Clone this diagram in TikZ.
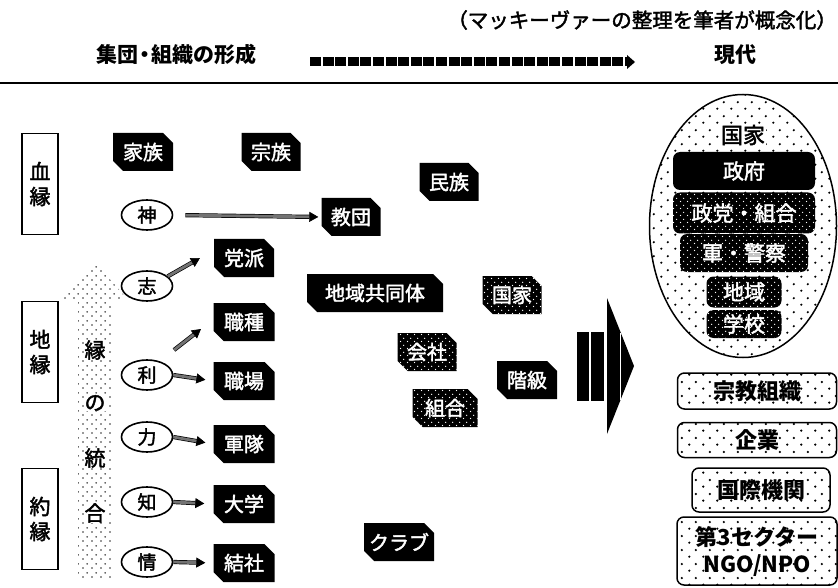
\documentclass[tikz,border=0pt]{standalone}
\usepackage{fontspec}
\setmainfont{Noto Sans CJK JP}[UprightFeatures={FakeBold=2}]
\usetikzlibrary{patterns,shapes.misc,shapes.geometric,arrows.meta,calc}
\pgfdeclarepatternformonly{bigdots}{\pgfqpoint{0pt}{0pt}}{\pgfqpoint{14pt}{14pt}}{\pgfqpoint{14pt}{14pt}}{%
  \pgfpathcircle{\pgfqpoint{3.5pt}{3.5pt}}{1.3pt}\pgfusepath{fill}%
  \pgfpathcircle{\pgfqpoint{10.5pt}{10.5pt}}{1.3pt}\pgfusepath{fill}}
\pgfdeclarepatternformonly{smalldots}{\pgfqpoint{0pt}{0pt}}{\pgfqpoint{7pt}{7pt}}{\pgfqpoint{7pt}{7pt}}{%
  \pgfpathcircle{\pgfqpoint{1.75pt}{1.75pt}}{0.75pt}\pgfusepath{fill}%
  \pgfpathcircle{\pgfqpoint{5.25pt}{5.25pt}}{0.75pt}\pgfusepath{fill}}
\pgfdeclarepatternformonly{gdots}{\pgfqpoint{0pt}{0pt}}{\pgfqpoint{9pt}{9pt}}{\pgfqpoint{9pt}{9pt}}{%
  \pgfpathcircle{\pgfqpoint{2.25pt}{2.25pt}}{0.95pt}\pgfusepath{fill}%
  \pgfpathcircle{\pgfqpoint{6.75pt}{6.75pt}}{0.95pt}\pgfusepath{fill}}
\begin{document}
\begin{tikzpicture}[x=1pt,y=-1pt,
  chbase/.style={chamfered rectangle, chamfered rectangle corners={north east,south west},
    chamfered rectangle xsep=5pt, chamfered rectangle ysep=5pt, text=white, inner sep=0pt,
    minimum height=38pt, minimum width=59pt, font=\fontsize{20}{20}\selectfont},
  blk/.style={chbase, fill=black},
  dblk/.style={chbase, preaction={fill=black}, pattern=smalldots, pattern color=white},
  kbox/.style={draw, line width=1.6pt, minimum width=36pt, minimum height=101pt, inner sep=0pt,
    align=center, font=\fontsize{21}{25}\selectfont},
  ell/.style={ellipse, draw, line width=1.6pt, minimum width=51pt, minimum height=30pt,
    inner sep=0pt, font=\fontsize{19}{19}\selectfont},
  arr/.style={draw=black, line width=0.7pt, double=black!55, double distance=2.8pt,
    -{Triangle[length=9pt,width=10pt]}},
  rbase/.style={rectangle, rounded corners=7pt, inner sep=0pt, font=\fontsize{21}{21}\selectfont, text=white},
  rblk/.style={rbase, fill=black},
  rdblk/.style={rbase, preaction={fill=black}, pattern=smalldots, pattern color=white},
  wbox/.style={rectangle, rounded corners=7pt, draw, line width=1.5pt, pattern=bigdots, inner sep=0pt,
    align=center, font=\fontsize{22}{27}\selectfont\bfseries},
  vch/.style={fill=white, inner sep=0.5pt, font=\fontsize{21}{21}\selectfont}
]
\useasboundingbox (0,0) rectangle (838,588);

% header
\node[anchor=east, inner sep=0pt, font=\fontsize{20.5}{21}\selectfont] (cap) at (837,20) {（マッキーヴァーの整理を筆者が概念化）};
\node[font=\fontsize{21}{21}\selectfont\bfseries] (h1) at (176,55) {集団\hspace{-4pt}・\hspace{-4pt}組織の形成};
\node[font=\fontsize{21}{21}\selectfont\bfseries] (h2) at (735,55) {現代};
\coordinate (as) at (310,62);
\coordinate (ae) at (627,62);
\draw[line width=9pt, dash pattern=on 11pt off 1.6pt] (as) -- (ae);
\fill (ae) ++(0,-7) -- ++(8,7) -- ++(-8,7) -- cycle;
\draw[line width=1.8pt] (0,83) -- (838,83);

% left category boxes
\node[kbox] (ketsu) at (40,184) {血\\縁};
\node[kbox] (chien) at (40,352) {地\\縁};
\node[kbox] (yakuen) at (40,519) {約\\縁};

% integration column
\fill[pattern=gdots, pattern color=black!80] (78,580) -- (78,300) -- (62,300) -- (95,262) -- (128,300) -- (112,300) -- (112,580) -- cycle;
\node[vch] (v1) at (95,350) {縁};
\node[vch] (v2) at (95,403) {の};
\node[vch] (v3) at (95,458) {統};
\node[vch] (v4) at (95,513) {合};

% ellipses
\node[ell] (kami) at (147,215) {神};
\node[ell] (shi) at (147,286) {志};
\node[ell] (ri) at (147,375) {利};
\node[ell] (chikara) at (147,437) {力};
\node[ell] (chi) at (147,502) {知};
\node[ell] (jou) at (147,562) {情};

% black boxes
\node[blk, minimum width=60pt] (kazoku) at (143,152) {家族};
\node[blk] (souzoku) at (271,152) {宗族};
\node[blk] (minzoku) at (449,182) {民族};
\node[blk] (kyoudan) at (351,217) {教団};
\node[blk, minimum width=60pt] (touha) at (244,258) {党派};
\node[blk, minimum width=61pt] (shokushu) at (244,322) {職種};
\node[blk, minimum width=61pt] (shokuba) at (244,381) {職場};
\node[blk, minimum width=61pt] (guntai) at (244,444) {軍隊};
\node[blk, minimum width=61pt] (daigaku) at (244,504) {大学};
\node[blk, minimum width=61pt] (kessha) at (244,563) {結社};
\node[blk, minimum width=136pt] (chiiki) at (375,293) {地域共同体};
\node[blk, minimum width=60pt] (kaikyu) at (527,380) {階級};
\node[blk, minimum width=66pt] (club) at (399,542) {クラブ};
\node[dblk] (kokka1) at (512,295) {国家};
\node[dblk] (kaisha) at (427,352) {会社};
\node[dblk, minimum width=65pt] (kumiai) at (445,408) {組合};

% arrows
\draw[arr, shorten <=12pt, shorten >=3pt] (kami.east) -- (kyoudan.west);
\coordinate (t1) at (200,258);
\draw[arr] (shi.25) -- (t1);
\coordinate (s2) at (174,350);
\coordinate (t2) at (201,329);
\draw[arr] (s2) -- (t2);
\draw[arr, shorten >=8pt] (ri.east) -- (shokuba.west);
\draw[arr, shorten >=8pt] (chikara.east) -- (guntai.west);
\draw[arr, shorten >=9pt] (chi.east) -- (daigaku.west);
\draw[arr, shorten >=8pt] (jou.east) -- (kessha.west);

% big arrow
\fill (577,332) rectangle (589,401);
\fill (591,332) rectangle (604,401);
\fill (607,298) -- (634,366) -- (607,434) -- cycle;
\draw[white, line width=1pt] (620,333) -- (620,400);

% modern state ellipse
\node[ellipse, draw, line width=1.5pt, pattern=bigdots, minimum width=187pt, minimum height=263pt, inner sep=0pt] (state) at (743,226) {};
\node[fill=white, inner sep=1pt, font=\fontsize{22}{22}\selectfont] (kokka2) at (743,135) {国家};
\node[rblk, minimum width=142pt, minimum height=38pt] (seifu) at (744,171) {政府};
\node[rdblk, minimum width=142pt, minimum height=41pt] (seitou) at (744,213) {政党・組合};
\node[rdblk, minimum width=128pt, minimum height=38pt] (gun) at (744,253) {軍・警察};
\draw[white, line width=1.3pt, dash pattern=on 9pt off 5pt] (692,233.5) -- (798,233.5);
\node[rdblk, minimum width=75pt, minimum height=31pt] (chiiki2) at (744,292) {地域};
\node[rdblk, minimum width=75pt, minimum height=28pt] (gakkou) at (744,324) {学校};

% other modern organisations
\node[wbox, minimum width=159pt, minimum height=36pt] (shuukyou) at (757,391) {宗教組織};
\node[wbox, minimum width=159pt, minimum height=35pt] (kigyou) at (757,440) {企業};
\node[wbox, minimum width=138pt, minimum height=44pt] (kokusai) at (761,490) {国際機関};
\node[wbox, minimum width=160pt, minimum height=68pt] (ngo) at (757,551) {第3セクター\\NGO/NPO};
\end{tikzpicture}
\end{document}
